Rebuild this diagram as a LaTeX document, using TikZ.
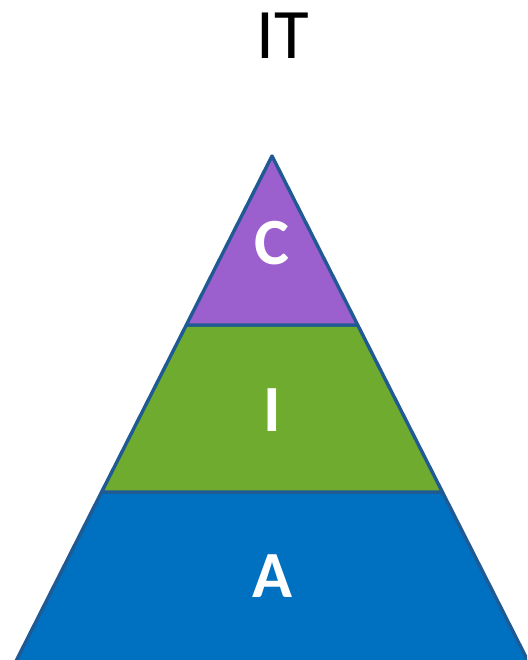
\documentclass[tikz,border=0pt]{standalone}
\usepackage{fontspec}
\setmainfont{Carlito}
\definecolor{edge}{HTML}{1F5A94}
\definecolor{cpurple}{HTML}{9C5FCE}
\definecolor{igreen}{HTML}{6FAB2E}
\definecolor{ablue}{HTML}{0070C0}
\begin{document}
\begin{tikzpicture}[x=1pt,y=-1pt,
  band/.style={draw=edge,line width=3.4pt,line join=round},
  letter/.style={text=white,font=\fontsize{66}{66}\selectfont\bfseries,inner sep=0pt}]
\useasboundingbox (0,0) rectangle (527,660);
\begin{scope}
\clip (0,0) rectangle (527,660);
\coordinate (apex) at (272,156);
\coordinate (l1) at (186.3,325);
\coordinate (r1) at (357.7,325);
\coordinate (l2) at (101.6,492);
\coordinate (r2) at (442.4,492);
\coordinate (l3) at (12,669);
\coordinate (r3) at (532,669);
\draw[band,fill=ablue] (l2) -- (r2) -- (r3) -- (l3) -- cycle;
\draw[band,fill=igreen] (l1) -- (r1) -- (r2) -- (l2) -- cycle;
\draw[band,fill=cpurple] (apex) -- (r1) -- (l1) -- cycle;
\end{scope}
\node[letter] (c) at (272,243) {C};
\node[letter] (i) at (272,410) {I};
\node[letter] (a) at (272,576) {A};
\node[font=\fontsize{71}{71}\selectfont,inner sep=0pt] (title) at (283,36) {IT};
\end{tikzpicture}
\end{document}
